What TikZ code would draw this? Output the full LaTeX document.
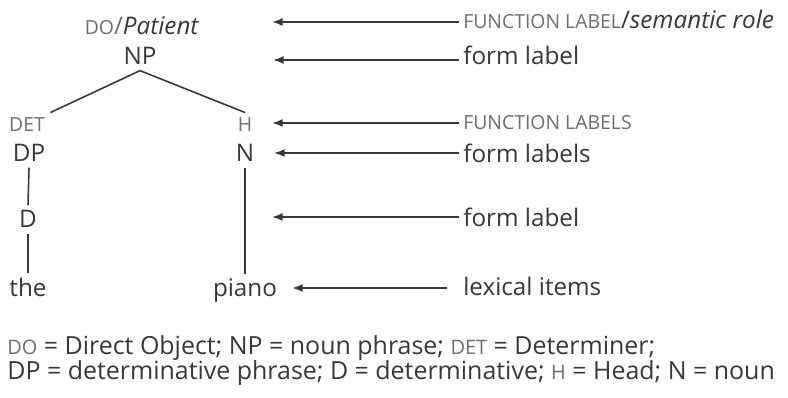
\documentclass[tikz,border=0pt]{standalone}
\usepackage{fontspec}
\setmainfont{Open Sans}
\usetikzlibrary{arrows.meta}
\definecolor{ink}{HTML}{383838}
\definecolor{greyink}{HTML}{6E6E6E}
\newcommand{\fsc}[1]{\scalebox{0.8}{#1}}
\begin{document}
\begin{tikzpicture}
[x=0.02cm,y=-0.02cm,
 lab/.style={text=ink,inner sep=3pt,anchor=base,font=\fontsize{13.8}{16}\selectfont},
 fn/.style={lab,text=greyink},
 note/.style={lab,inner sep=0pt,anchor=base west},
 key/.style={note,font=\fontsize{14.2}{16}\selectfont},
 branch/.style={draw=ink,line width=0.9pt},
 arr/.style={draw=ink,line width=0.9pt,shorten <=2pt,-{Latex[length=6pt,width=4.5pt]}}]
\useasboundingbox (0,0) rectangle (788,398);
% tree
\node [fn] (do) at (142,35) {\fsc{DO}/\textcolor{ink}{\textit{Patient}}};
\node [lab] (np) at (140,65) {NP};
\node [fn] (det) at (27,132) {\fsc{DET}};
\node [fn] (h) at (245,132) {\fsc{H}};
\node [lab] (dp) at (29,162) {DP};
\node [lab] (n) at (245,162) {N};
\node [lab] (d) at (28,228) {D};
\node [lab] (the) at (28,297) {the};
\node [lab] (piano) at (245,297) {piano};
\draw [branch] (np.south) -- (det.north east);
\draw [branch] (np.south) -- (h.north);
\draw [branch] (dp.south) -- (d.north);
\draw [branch] (d.south) -- (the.north);
\draw [branch] (n.south) -- (piano.north);
% labels on the right
\coordinate (t1) at (272,22);
\coordinate (t2) at (273,60);
\coordinate (t3) at (272,123);
\coordinate (t4) at (274,153);
\coordinate (t5) at (272,217);
\coordinate (t6) at (292,288);
\node [note] (r1) at (463,29) {\textcolor{greyink}{\fsc{FUNCTION LABEL}}/\textit{semantic role}};
\node [note] (r2) at (463,65) {form label};
\node [note,text=greyink] (r3) at (463,130) {\fsc{FUNCTION LABELS}};
\node [note] (r4) at (463,163) {form labels};
\node [note] (r5) at (463,227) {form label};
\node [note] (r6) at (463,296) {lexical items};
\draw [arr] (t1 -| r1.west) -- (t1);
\draw [arr] (t2 -| r2.west) -- (t2);
\draw [arr] (t3 -| r3.west) -- (t3);
\draw [arr] (t4 -| r4.west) -- (t4);
\draw [arr] (t5 -| r5.west) -- (t5);
\draw [arr,shorten <=9pt] (t6 -| r6.west) -- (t6);
% key
\node [key] (k1) at (7,355) {\textcolor{greyink}{\fsc{DO}} = Direct Object; NP = noun phrase; \textcolor{greyink}{\fsc{DET}} = Determiner;};
\node [key] (k2) at (7,380) {DP = determinative phrase; D = determinative; \textcolor{greyink}{\fsc{H}} = Head; N = noun};
\end{tikzpicture}
\end{document}
